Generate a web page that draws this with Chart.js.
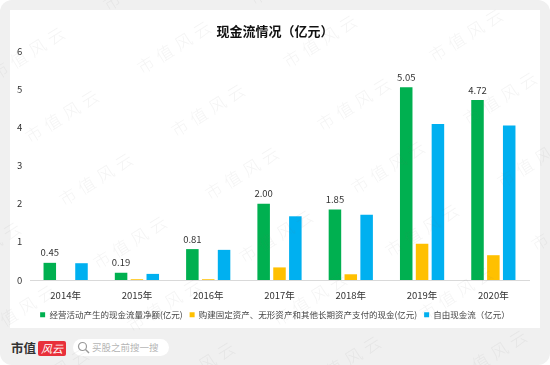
<!DOCTYPE html>
<html>
<head>
<meta charset="utf-8">
<script src="https://cdn.jsdelivr.net/npm/chart.js@4"></script>
<style>
html, body { margin: 0; padding: 0; background: #fff; }
#page { position: relative; width: 550px; height: 365px; background: #f0f0f0; border-radius: 12px; overflow: hidden; font-family: "Noto Sans CJK SC", sans-serif; }
#card { position: absolute; left: 10px; top: 10px; width: 530px; height: 318px; background: #fff; }
#brand { position: absolute; left: 11px; top: 339px; font: bold 12.5px/17px "Noto Sans CJK SC"; color: #333; }
#logo { position: absolute; left: 38px; top: 341px; width: 28px; height: 15px; background: #e8303a; border-radius: 2px; color: #fff; font: italic 11px/15px "Noto Sans CJK SC"; text-align: center; }
#search { position: absolute; left: 73px; top: 339px; width: 96px; height: 17px; background: #fff; border-radius: 9px; color: #b5b5b5; font: 9.5px/17px "Noto Sans CJK SC"; text-indent: 19px; }
#search svg { position: absolute; left: 4px; top: 2px; }
canvas { position: absolute; left: 0; top: 0; }
</style>
</head>
<body>
<div id="page">
  <div id="card"></div>
  <div id="brand">市值</div>
  <div id="logo">风云</div>
  <div id="search">
    <svg width="13" height="13" viewBox="0 0 13 13"><circle cx="5.5" cy="5.5" r="4" fill="none" stroke="#999" stroke-width="1.2"/><line x1="8.5" y1="8.5" x2="12" y2="12" stroke="#999" stroke-width="1.4"/></svg>
    买股之前搜一搜
  </div>
  <canvas id="chart" width="550" height="365"></canvas>
</div>
<script>
const YEARS = ['2014年', '2015年', '2016年', '2017年', '2018年', '2019年', '2020年'];
const OPERATING = [0.45, 0.19, 0.81, 2.00, 1.85, 5.05, 4.72];
const CAPEX = [0, 0.02, 0.02, 0.33, 0.15, 0.95, 0.65];
const FREE_CASH = [0.44, 0.16, 0.79, 1.67, 1.71, 4.09, 4.05];
const FONT = '"Noto Sans CJK SC", sans-serif';

// value labels above the green bars
const greenLabels = {
    id: 'greenLabels',
    afterDatasetsDraw(chart) {
        const ctx = chart.ctx;
        const meta = chart.getDatasetMeta(0);
        ctx.save();
        ctx.font = '9.5px ' + FONT;
        ctx.fillStyle = '#333';
        ctx.textAlign = 'center';
        ctx.textBaseline = 'middle';
        meta.data.forEach((bar, i) => {
            ctx.fillText(OPERATING[i].toFixed(2), bar.x, bar.y - 10);
        });
        ctx.restore();
    }
};

// faint repeated site watermark, over everything
const watermark = {
    id: 'watermark',
    afterDraw(chart) {
        const ctx = chart.ctx;
        ctx.save();
        ctx.font = '300 17px ' + FONT;
        ctx.letterSpacing = '5px';
        ctx.fillStyle = 'rgba(120,120,120,0.08)';
        ctx.textAlign = 'center';
        ctx.textBaseline = 'middle';
        for (let i = -2; i < 6; i++) {
            for (let j = -2; j < 7; j++) {
                const x = 30 + i * 146 + j * 34;
                const y = 52 - i * 6 + j * 63;
                ctx.save();
                ctx.translate(x, y);
                ctx.rotate(-32 * Math.PI / 180);
                ctx.fillText('市值风云', 0, 0);
                ctx.restore();
            }
        }
        ctx.restore();
    }
};

new Chart(document.getElementById('chart'), {
    type: 'bar',
    data: {
        labels: YEARS,
        datasets: [
            { label: '经营活动产生的现金流量净额(亿元)', data: OPERATING, backgroundColor: '#00b050' },
            { label: '购建固定资产、无形资产和其他长期资产支付的现金(亿元)', data: CAPEX, backgroundColor: '#ffc000' },
            { label: '自由现金流（亿元）', data: FREE_CASH, backgroundColor: '#00b0f0' }
        ]
    },
    options: {
        responsive: false,
        animation: false,
        layout: { padding: { left: 21, right: 21, top: 23, bottom: 36 } },
        datasets: { bar: { categoryPercentage: 0.667, barPercentage: 0.79 } },
        plugins: {
            title: {
                display: true,
                text: '现金流情况（亿元）',
                color: '#111',
                font: { family: FONT, size: 13, weight: 'bold' },
                padding: { top: 0, bottom: 12.5 }
            },
            legend: {
                position: 'bottom',
                labels: {
                    boxWidth: 5,
                    boxHeight: 5,
                    padding: 7,
                    color: '#444',
                    font: { family: FONT, size: 8.5 }
                }
            },
            tooltip: { enabled: false }
        },
        scales: {
            x: {
                grid: { display: false, drawTicks: false },
                border: { color: '#d9d9d9' },
                ticks: { color: '#333', padding: 10, maxRotation: 0, font: { family: FONT, size: 9.5 } },
                afterFit(scale) { scale.height = 23.5; }
            },
            y: {
                min: 0,
                max: 6,
                grid: { display: false, drawTicks: false },
                border: { display: false },
                // mirror + negative padding puts labels left of the narrow axis without clipping
                ticks: { stepSize: 1, color: '#333', mirror: true, padding: -13, font: { family: FONT, size: 9.5 } },
                afterFit(scale) { scale.width = 9; }
            }
        }
    },
    plugins: [greenLabels, watermark]
});
</script>
</body>
</html>
